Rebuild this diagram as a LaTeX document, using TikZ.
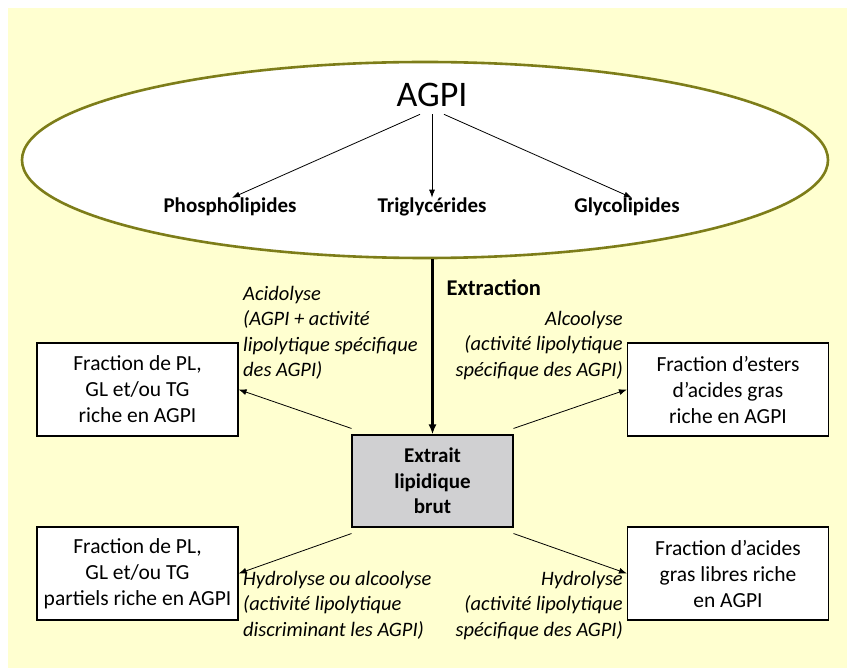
\documentclass[tikz,border=0pt]{standalone}
\usepackage{fontspec}
\setmainfont{Carlito}
\usetikzlibrary{shapes.geometric,arrows.meta}
\definecolor{bgyellow}{RGB}{255,255,208}
\definecolor{olive}{RGB}{125,125,25}
\definecolor{boxgray}{RGB}{208,208,210}
\tikzset{
  fbox/.style={draw=black, line width=1.1pt, fill=white, minimum width=201pt, minimum height=93pt, inner sep=0pt, align=center, font=\fontsize{21.5}{26}\selectfont},
  lbl/.style={inner sep=0pt, font=\fontsize{20.5}{25.5}\selectfont\itshape},
  sub/.style={inner sep=0pt, font=\fontsize{21}{22}\selectfont\bfseries},
  thinarr/.style={line width=0.8pt, -{Latex[length=8pt,width=6pt]}},
}
\begin{document}
\begin{tikzpicture}[x=1pt,y=-1pt]
\useasboundingbox (0,0) rectangle (847,668);
\fill[white] (0,0) rectangle (847,668);
\fill[bgyellow] (8,8) rectangle (847,668);
\node[draw=olive, line width=2.6pt, fill=white, ellipse, minimum width=806pt, minimum height=196pt, inner sep=0pt] (ell) at (425,160) {};
\node[font=\fontsize{36}{40}\selectfont] (agpi) at (432,95) {AGPI};
\node[sub] (phos) at (230,207) {Phospholipides};
\node[sub] (trig) at (432,207) {Triglycérides};
\node[sub] (glyc) at (627,207) {Glycolipides};
\draw[thinarr] ([xshift=-12pt,yshift=-4pt]agpi.south) -- ([xshift=2pt]phos.north);
\draw[thinarr] ([yshift=-4pt]agpi.south) -- (trig.north);
\draw[thinarr] ([xshift=12pt,yshift=-4pt]agpi.south) -- ([xshift=5pt]glyc.north);

\node[draw=black, line width=1.1pt, fill=boxgray, minimum width=161pt, minimum height=92pt, inner sep=0pt, align=center, font=\fontsize{21}{25.5}\selectfont\bfseries] (ext) at (432.5,481) {Extrait\\lipidique\\brut};
\draw[line width=2.6pt, -{Latex[length=10pt,width=8pt]}] (ext.north |- ell.south) -- (ext.north);
\node[font=\fontsize{22.5}{24}\selectfont\bfseries, anchor=west] (extr) at (443,288) {Extraction};

\node[fbox] (lt) at (137.5,389.5) {Fraction de PL,\\GL et/ou TG\\riche en AGPI};
\node[fbox] (lb) at (137.5,573.5) {Fraction de PL,\\GL et/ou TG\\partiels riche en AGPI};
\node[fbox] (rt) at (728,389.5) {Fraction d’esters\\d’acides gras\\riche en AGPI};
\node[fbox] (rb) at (728,573.5) {Fraction d’acides\\gras libres riche\\en AGPI};

\draw[thinarr] ([yshift=6pt]ext.north west) -- (lt.east);
\draw[thinarr] ([yshift=6pt]ext.north east) -- (rt.west);
\draw[thinarr] ([yshift=-6pt]ext.south west) -- (lb.east);
\draw[thinarr] ([yshift=-6pt]ext.south east) -- (rb.west);

\node[lbl, anchor=north west, align=left] (acid) at (243,286) {Acidolyse\\(AGPI + activité\\lipolytique spécifique\\des AGPI)};
\node[lbl, anchor=north east, align=right] (alco) at (623,311) {Alcoolyse\\(activité lipolytique\\spécifique des AGPI)};
\node[lbl, anchor=north west, align=left] (hyal) at (243,571) {Hydrolyse ou alcoolyse\\(activité lipolytique\\discriminant les AGPI)};
\node[lbl, anchor=north east, align=right] (hydr) at (623,571) {Hydrolyse\\(activité lipolytique\\spécifique des AGPI)};
\end{tikzpicture}
\end{document}
